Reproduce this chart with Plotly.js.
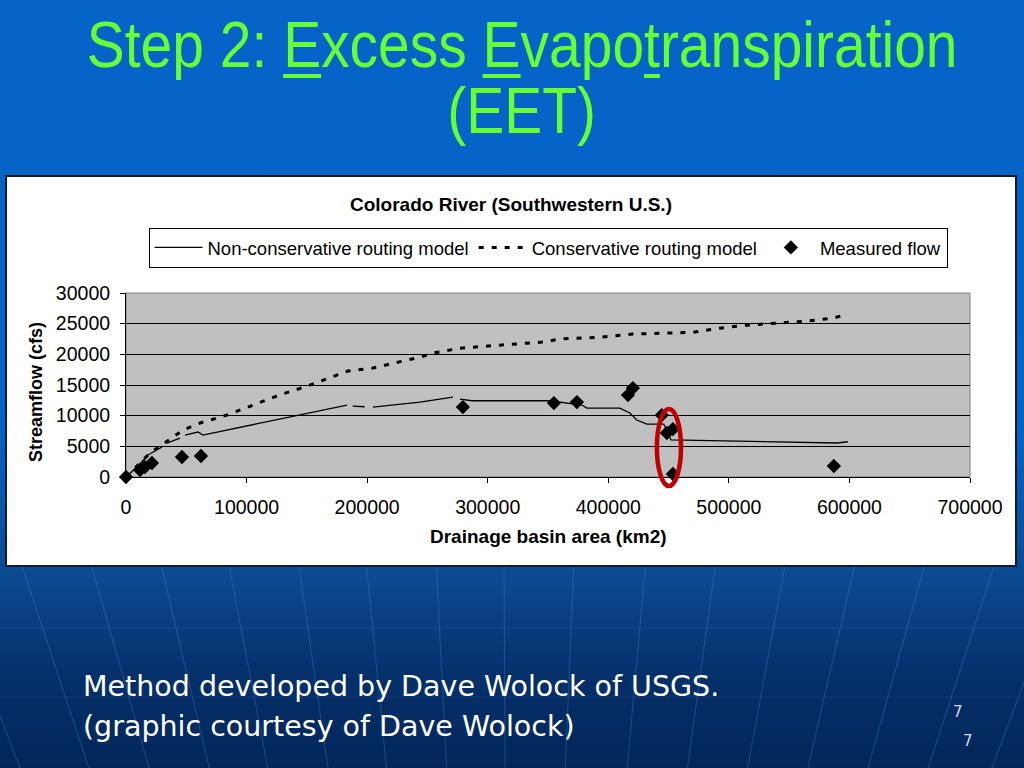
<!DOCTYPE html>
<html>
<head>
<meta charset="utf-8">
<script src="https://cdn.plot.ly/plotly-3.0.1.min.js"></script>
<style>
  html, body { margin:0; padding:0; }
  body {
    width:1024px; height:768px; overflow:hidden; position:relative;
    background: linear-gradient(to bottom, #0664c8 0%, #0663c6 56%, #0b4a92 75%, #05306a 88%, #03265a 100%);
    font-family: "Liberation Sans", Arial, sans-serif;
  }
  #bglines { position:absolute; left:0; top:0; }
  .ttl {
    position:absolute; left:0; width:1044px; text-align:center;
    color:#66ff33; font-family:"Liberation Sans", Arial, sans-serif; font-size:64px;
    line-height:64px; white-space:nowrap;
  }
  .ttl span { display:inline-block; transform:scaleX(0.89); transform-origin:center; }
  .ttl u { text-decoration-thickness:4px; text-underline-offset:7px; }
  #box {
    position:absolute; left:5px; top:175px; width:1008px; height:388px;
    border:2px solid #141a2a; background:#fff;
  }
  #chart { width:1008px; height:388px; }
  .foot {
    position:absolute; left:83px; color:#ffffff;
    font-family:"DejaVu Sans", Verdana, sans-serif; font-size:28.5px; white-space:nowrap;
  }
  .pg { position:absolute; color:#d8d8e8; font-family:"DejaVu Sans", sans-serif; font-size:15px; }
</style>
</head>
<body>
<svg id="bglines" width="1024" height="768"></svg>
<div class="ttl" style="top:13px;"><span>Step 2: <u>E</u>xcess <u>E</u>vapo<u>t</u>ranspiration</span></div>
<div class="ttl" style="top:79px;"><span>(EET)</span></div>
<div id="box"><div id="chart"></div></div>
<div class="foot" style="top:670px;">Method developed by Dave Wolock of USGS.</div>
<div class="foot" style="top:710px;">(graphic courtesy of Dave Wolock)</div>
<div class="pg" style="left:953px; top:703px;">7</div>
<div class="pg" style="left:963px; top:732px;">7</div>
<script>
// ---- data ----
var consX = [0, 19900, 47300, 61400, 83700, 105300, 127700, 150000, 171600, 184000, 204800, 227200, 243800, 254600, 277000, 310000, 345800, 359900, 393000, 420400, 448600, 470200, 492500, 514900, 539800, 564700, 586200, 598700];
var consY = [0, 3900, 7650, 8800, 10100, 11700, 13400, 14800, 16450, 17270, 17760, 18730, 19550, 20200, 21000, 21500, 22000, 22500, 22800, 23300, 23460, 23600, 24270, 24760, 25090, 25410, 25900, 26550];

var nonconsX = [0, 10000, 18200, 29900, null, 34000, 44800, null, 48900, 59700, 63800, 144300, 183300, null, 188000, 198000, null, 204800, 243800, 271100, null, 277000, 286900, 351600, 378100, 382300, 409600, 417900, 423700, 432000, 446000, 452000, 459400, 589600, 598700];
var nonconsY = [0, 1800, 3580, 4890, null, 5540, 6350, null, 6840, 7330, 6840, 10100, 11730, null, 11550, 11450, null, 11400, 12200, 13030, null, 12700, 12430, 12430, 11730, 11240, 11240, 10430, 9290, 8630, 8630, 6050, 6030, 5540, 5750];

var measX = [0, 11600, 15700, 21500, 46400, 62200, 279400, 354900, 374000, 416300, 420400, 444400, 448600, 453600, 453600, 587100];
var measY = [0, 1140, 1630, 2280, 3260, 3420, 11400, 12050, 12220, 13360, 14500, 10100, 7170, 7820, 490, 1790];

var xTicks = [0, 100000, 200000, 300000, 400000, 500000, 600000, 700000];
var yTicks = [0, 5000, 10000, 15000, 20000, 25000, 30000];

var chartTitle = "Colorado River (Southwestern U.S.)";
var xTitle = "Drainage basin area (km2)";
var yTitle = "Streamflow (cfs)";
var names = ["Non-conservative routing model", "Conservative routing model", "Measured flow"];

// ---- background decorative lines ----
(function(){
  var svg = document.getElementById('bglines');
  var tops = [-60, 20, 90, 160, 228, 298, 366, 436, 504, 574, 646, 716, 786, 856, 926, 996, 1070];
  var s = '';
  tops.forEach(function(t){
    var b = 512 + (t - 512) * 0.86;
    s += '<line x1="'+t+'" y1="560" x2="'+b+'" y2="768" stroke="#4f8fd8" stroke-opacity="0.28" stroke-width="1.2"/>';
  });
  s += '<line x1="0" y1="628" x2="1024" y2="628" stroke="#4f8fd8" stroke-opacity="0.15" stroke-width="1"/>';
  s += '<line x1="0" y1="697" x2="1024" y2="697" stroke="#4f8fd8" stroke-opacity="0.15" stroke-width="1"/>';
  svg.innerHTML = s;
})();

var traces = [
  { x: nonconsX, y: nonconsY, name: names[0], mode: 'lines', type: 'scatter',
    line: { color: '#000000', width: 1.3 }, connectgaps: false },
  { x: consX, y: consY, name: names[1], mode: 'lines', type: 'scatter',
    line: { color: '#000000', width: 3, dash: '5px,8px' } },
  { x: measX, y: measY, name: names[2], mode: 'markers', type: 'scatter',
    marker: { symbol: 'diamond', size: 11, color: '#000000' }, cliponaxis: false }
];

var axFont = { family: 'Liberation Sans, Arial, sans-serif', size: 19.5, color: '#000' };
var lblFont = { family: 'Liberation Sans, Arial, sans-serif', size: 19, color: '#000' };

var layout = {
  width: 1008, height: 388,
  margin: { l: 119, r: 45, t: 116, b: 88 },
  paper_bgcolor: '#ffffff', plot_bgcolor: '#c0c0c0',
  showlegend: true,
  title: { text: '<b>' + chartTitle + '</b>', font: lblFont,
           x: 0.5, xref: 'container', xanchor: 'center', y: 0.93, yref: 'container', yanchor: 'middle' },
  legend: { orientation: 'h', x: 0.5, xanchor: 'center', y: 1.354, yanchor: 'top',
            bgcolor: '#ffffff', bordercolor: '#000000', borderwidth: 1,
            font: { family: 'Liberation Sans, Arial, sans-serif', size: 18.5, color: '#000' },
            itemwidth: 48, tracegroupgap: 0 },
  xaxis: { range: [0, 700000], tickvals: xTicks, tickformat: 'd', showgrid: false, zeroline: false,
           showline: true, linecolor: '#000', linewidth: 1, ticks: 'outside', ticklen: 5, tickcolor: '#000',
           tickfont: axFont, ticklabelstandoff: 8, fixedrange: true },
  yaxis: { range: [0, 30000], tickvals: yTicks, tickformat: 'd', showgrid: true, gridcolor: '#000', gridwidth: 1,
           zeroline: false, showline: true, linecolor: '#000', linewidth: 1, ticks: 'outside', ticklen: 5,
           tickcolor: '#000', tickfont: axFont, ticklabelstandoff: 6, fixedrange: true },
  shapes: [
    { type: 'rect', xref: 'paper', yref: 'paper', x0: 0, x1: 1, y0: 0, y1: 1,
      line: { color: '#808080', width: 1 }, layer: 'below' },
    { type: 'circle', xref: 'paper', yref: 'paper', x0: 0.629, x1: 0.6576, y0: -0.049, y1: 0.37,
      line: { color: '#c00000', width: 4.5 }, layer: 'above' }
  ],
  annotations: [
    { text: '<b>' + xTitle + '</b>', xref: 'paper', yref: 'paper', x: 0.5, y: -0.326,
      xanchor: 'center', yanchor: 'middle', showarrow: false, font: lblFont },
    { text: '<b>' + yTitle + '</b>', xref: 'paper', yref: 'paper', x: -0.1066, y: 0.462,
      xanchor: 'center', yanchor: 'middle', showarrow: false, textangle: -90,
      font: { family: 'Liberation Sans, Arial, sans-serif', size: 18, color: '#000' } }
  ]
};

Plotly.newPlot('chart', traces, layout, { staticPlot: true, displayModeBar: false });
</script>
</body>
</html>
